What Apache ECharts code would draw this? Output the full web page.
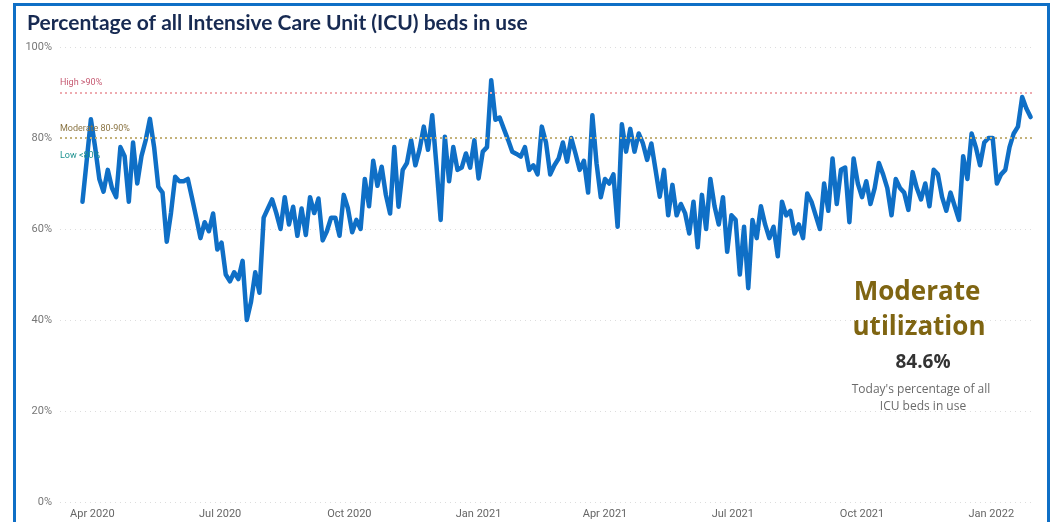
<!DOCTYPE html>
<html>
<head>
<meta charset="utf-8">
<script src="https://cdn.jsdelivr.net/npm/echarts@6/dist/echarts.min.js"></script>
<style>
  html, body { margin: 0; padding: 0; background: #ffffff; }
  #chart { position: absolute; left: 0; top: 0; width: 1057px; height: 522px; }
  #frame { position: absolute; left: 13px; top: 3px; width: 1037px; height: 600px;
           border: 3px solid #0f6fc6; pointer-events: none; box-sizing: border-box; }
</style>
</head>
<body>
<div id="chart"></div>
<div id="frame"></div>
<script>
// ---- data ----
const axisStart = '2020-03-09';   // first day on the axis
const axisEnd = '2022-01-30';     // last day on the axis
const seriesStart = '2020-03-25'; // first reading
const stepDays = 3;               // readings every 3 days
const icuPct = [
  66, 75, 84.1, 78, 71, 68.2, 73, 69, 67, 78,
  76, 66, 79, 70, 76, 79.5, 84.2, 78, 69.3, 68,
  57.2, 63.5, 71.5, 70.5, 70.5, 71, 66.8, 62.5, 58, 61.5,
  59.5, 63.4, 55.5, 57, 50, 48.5, 50.5, 49, 53, 40,
  44, 50.5, 46, 62.5, 64.5, 66.5, 63.5, 60, 67, 61,
  64.9, 58.5, 64.5, 58.7, 67, 63.5, 66.7, 57.5, 59.5, 62.5,
  62.5, 58.5, 67.5, 64.5, 59.3, 62, 60, 71, 65, 75,
  69.5, 73.7, 67.5, 63.4, 78, 64.9, 73, 74.5, 79.5, 74,
  77.5, 82.5, 77.4, 85, 74, 62, 80.3, 70.5, 78, 73,
  73.5, 76.6, 73.5, 79.5, 71.1, 77, 78, 92.7, 84, 84.5,
  82, 79.6, 77, 76.5, 75.9, 78, 73, 74, 72, 82.5,
  79, 72, 74, 75.5, 79, 74.8, 80, 76.6, 73, 75,
  68, 85, 74.4, 67, 71, 70, 72, 60.5, 83, 77,
  82, 77, 81, 78.8, 75.2, 78.8, 73, 67.1, 73, 63,
  69.7, 63, 65.5, 63.5, 59, 66, 56, 67.5, 60, 71,
  65, 61, 67, 55, 63, 62, 50, 60.5, 47, 62,
  58, 65, 61, 58, 60.5, 54, 66, 63, 64, 59,
  61, 58, 67.8, 66, 63, 60, 70, 64, 75.5, 65.5,
  73, 73.5, 61.5, 75.5, 70, 67, 70.5, 65.5, 69, 74.5,
  72, 69, 63, 71, 69, 68, 64.2, 72.5, 69, 66.5,
  70, 65, 73, 72, 67, 64, 68, 65, 62, 76,
  71, 81, 78, 74, 79, 80, 80, 70, 72, 73,
  78, 81, 82.5, 89, 86.5, 84.6
];
const yTicks = [0, 20, 40, 60, 80, 100];
const thresholds = [
  { value: 90, label: 'High >90%' },
  { value: 80, label: 'Moderate 80-90%' },
  { value: 80, label: 'Low <80%' }
];
const statusTitle = ['Moderate', 'utilization'];
const todayValue = '84.6%';
const todayCaption = ["Today's percentage of all", 'ICU beds in use'];
const chartTitle = 'Percentage of all Intensive Care Unit (ICU) beds in use';
const monthNames = ['Jan','Feb','Mar','Apr','May','Jun','Jul','Aug','Sep','Oct','Nov','Dec'];

// ---- build ----
const DAY = 86400000;
function toISO(t) { return new Date(t).toISOString().slice(0, 10); }
const t0 = Date.parse(axisStart + 'T00:00:00Z');
const t1 = Date.parse(axisEnd + 'T00:00:00Z');
const days = [];
for (let t = t0; t <= t1; t += DAY) days.push(toISO(t));
const s0 = Date.parse(seriesStart + 'T00:00:00Z');
const lineData = icuPct.map((v, i) => [toISO(s0 + i * stepDays * DAY), v]);

function isQuarterStart(s) {
  const m = s.slice(5, 7);
  return s.slice(8) === '01' && (m === '01' || m === '04' || m === '07' || m === '10');
}

const chart = echarts.init(document.getElementById('chart'));
const font = 'Roboto, "DejaVu Sans", sans-serif';
const bigFont = '"Open Sans", "Noto Sans", sans-serif';
chart.setOption({
  animation: false,
  backgroundColor: '#ffffff',
  title: {
    text: chartTitle,
    left: 22, top: 8,
    textStyle: { fontFamily: 'Lato, "Open Sans", sans-serif', fontSize: 21, fontWeight: 'bold', color: '#172a52' }
  },
  grid: { left: 60, right: 25, top: 47, bottom: 20, containLabel: false },
  xAxis: {
    type: 'category',
    data: days,
    boundaryGap: false,
    axisLine: { show: false },
    axisTick: { show: false },
    splitLine: { show: false },
    axisLabel: {
      interval: (idx, val) => isQuarterStart(val),
      formatter: (val) => monthNames[parseInt(val.slice(5, 7), 10) - 1] + ' ' + val.slice(0, 4),
      color: '#666666', fontSize: 11, fontFamily: font, margin: 7
    }
  },
  yAxis: {
    type: 'value',
    min: yTicks[0], max: yTicks[yTicks.length - 1], interval: 20,
    axisLine: { show: false },
    axisTick: { show: false },
    axisLabel: { formatter: '{value}%', color: '#777777', fontSize: 11, fontFamily: font, margin: 8 },
    splitLine: { lineStyle: { color: '#dddddd', type: [1, 4], width: 1 } }
  },
  series: [
    {
      type: 'line',
      data: [],
      z: 1,
      silent: true,
      markLine: {
        silent: true,
        symbol: 'none',
        data: [
          { yAxis: thresholds[0].value,
            lineStyle: { color: '#eeaaaf', type: [2, 3], width: 2 },
            label: { formatter: thresholds[0].label, position: 'insideStartTop', distance: [0, 5], color: '#c65a72', fontSize: 9, fontFamily: font } },
          { yAxis: thresholds[1].value,
            lineStyle: { color: '#c4b27a', type: [2, 3], width: 2 },
            label: { formatter: thresholds[1].label, position: 'insideStartTop', distance: [0, 5], color: '#8a7443', fontSize: 9, fontFamily: font } },
          { yAxis: thresholds[2].value,
            lineStyle: { color: 'rgba(255,255,255,0)', width: 0.01 },
            label: { formatter: thresholds[2].label, position: 'insideStartBottom', distance: [0, 13], color: '#1d9290', fontSize: 9, fontFamily: font } }
        ]
      }
    },
    {
      type: 'line',
      data: lineData,
      z: 3,
      showSymbol: false,
      smooth: false,
      lineStyle: { color: '#0f6fc6', width: 4.5, join: 'round', cap: 'round' }
    }
  ],
  graphic: [
    { type: 'text', style: { text: statusTitle[0], x: 917, y: 293, textAlign: 'center', textVerticalAlign: 'middle',
      font: 'bold 26px ' + bigFont, fill: '#7f6512' } },
    { type: 'text', style: { text: statusTitle[1], x: 919, y: 328, textAlign: 'center', textVerticalAlign: 'middle',
      font: 'bold 26px ' + bigFont, fill: '#7f6512' } },
    { type: 'text', style: { text: todayValue, x: 923, y: 363, textAlign: 'center', textVerticalAlign: 'middle',
      font: 'bold 19px ' + bigFont, fill: '#333333' } },
    { type: 'text', style: { text: todayCaption[0], x: 921, y: 390, textAlign: 'center', textVerticalAlign: 'middle',
      font: '12px ' + bigFont, fill: '#6a6a6a' } },
    { type: 'text', style: { text: todayCaption[1], x: 923, y: 407, textAlign: 'center', textVerticalAlign: 'middle',
      font: '12px ' + bigFont, fill: '#6a6a6a' } }
  ]
});
</script>
</body>
</html>
